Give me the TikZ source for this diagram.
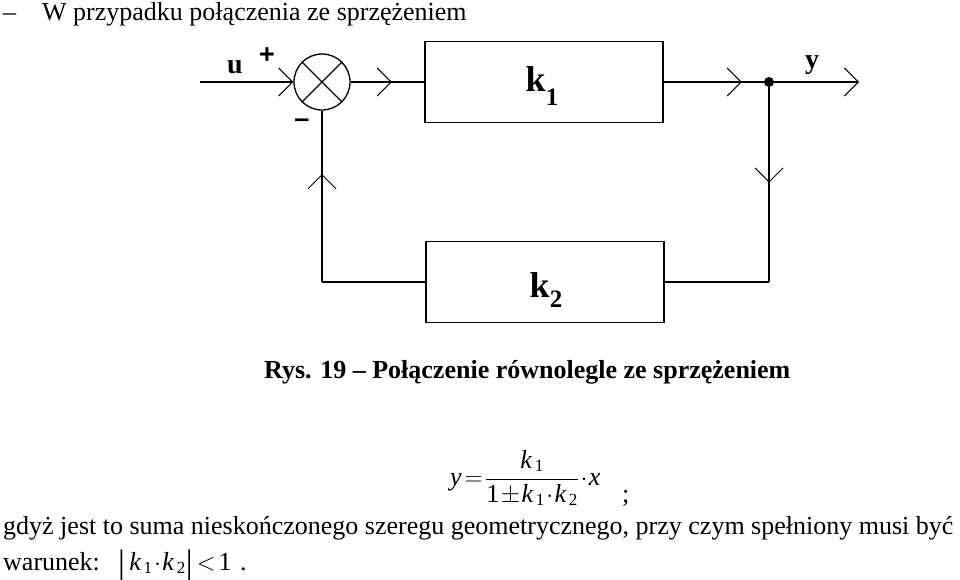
\documentclass[tikz,border=0pt]{standalone}
\usepackage{fontspec}
\setmainfont{Liberation Serif}
\newfontfamily\labelsans{Liberation Sans}
\usetikzlibrary{arrows.meta,decorations.markings,positioning}
\newcommand{\subidx}[1]{_{\mbox{\fontsize{17}{17}\selectfont\,#1}}}
\newcommand{\upnum}[1]{\mbox{#1}}
\newcommand{\absbar}{\raisebox{-3pt}{\fontsize{34}{34}\selectfont|}}

\begin{document}
\begin{tikzpicture}[
  x=1pt, y=-1pt,
  line/.style={line width=1.6pt},
  block/.style={rectangle, draw, line width=1.6pt, minimum width=238pt, minimum height=81pt, inner sep=0pt},
  blocklabel/.style={inner sep=0pt, font=\fontsize{36}{36}\selectfont\bfseries},
  sumnode/.style={circle, draw, line width=1.3pt, minimum size=56pt, inner sep=0pt},
  barb/.style={-{Straight Barb[length=14pt,width=28pt,line width=1pt]}},
  midbarb/.style={postaction={decorate}, decoration={markings, mark=at position #1 with {\arrow{Straight Barb[length=14pt,width=28pt,line width=1pt]}}}},
  lbl/.style={inner sep=0pt, font=\fontsize{28}{28}\selectfont\bfseries},
  sign/.style={inner sep=0pt, font=\fontsize{27}{27}\selectfont\labelsans\bfseries},
  txt/.style={inner sep=0pt, anchor=base west, font=\fontsize{26}{29}\selectfont}
]
\useasboundingbox (0,0) rectangle (960,579);

% heading
\node[txt] (dash) at (3,20) {–};
\node[txt] (head) at (42,20) {W przypadku połączenia ze sprzężeniem};

% block diagram
\coordinate (in) at (200,82);
\node[sumnode] (sum) at (322,82) {};
\draw[line width=1.3pt] (sum.north west) -- (sum.south east) (sum.north east) -- (sum.south west);
\node[block] (k1) at (544,82) {};
\node[blocklabel] (k1text) at (542,86) {k\raisebox{-0.4em}{\fontsize{25}{25}\selectfont 1}};
\node[circle, fill, inner sep=0pt, minimum size=10pt] (split) at (769,82) {};
\coordinate (out) at (859,82);
\node[block] (k2) at (545,282) {};
\node[blocklabel] (k2text) at (546,290) {k\raisebox{-0.3em}{\fontsize{25}{25}\selectfont 2}};
\coordinate (down) at (769,282);
\coordinate (up) at (322,282);

\node[lbl] (ulabel) at (235,67) {u};
\node[sign] (plus) at (267,56) {+};
\node[sign] (minus) at (302,123) {–};
\node[lbl] (ylabel) at (812,65) {y};

\draw[line, barb] (in) -- (sum);
\draw[line, midbarb=0.56] (sum) -- (k1);
\draw[line, midbarb=0.78] (k1) -- (split);
\draw[line, barb] (split) -- (out);
\draw[line, midbarb=0.49] (split) -- (down);
\draw[line] (down) -- (k2);
\draw[line] (k2) -- (up);
\draw[line, midbarb=0.63] (up) -- (sum);

% caption
\node[txt, font=\fontsize{26}{29}\selectfont\bfseries] (caption) at (264,378) {Rys. 19 – Połączenie równolegle ze sprzężeniem};

% formula
\node[txt] (formula) at (450,485) {$\textit{y}\!=\!\displaystyle\frac{\textit{k}\subidx{1}}{\upnum{1}\!\pm\!\textit{k}\subidx{1}\!\cdot\!\textit{k}\subidx{2}}\!\cdot\!\textit{x}$};
\node[txt] (semi) at (622,502) {;};

% text below
\node[txt] (line2) at (3,570) {warunek:};
\node[txt] (line1) at (3,534) {gdyż jest to suma nieskończonego szeregu geometrycznego, przy czym spełniony musi być};
\node[txt] (cond) at (118,570) {\absbar\,$\textit{k}\subidx{1}\!\cdot\!\textit{k}\subidx{2}$\absbar\,$<\!\upnum{1}$};
\node[txt] (dot) at (240,570) {.};
\end{tikzpicture}
\end{document}
